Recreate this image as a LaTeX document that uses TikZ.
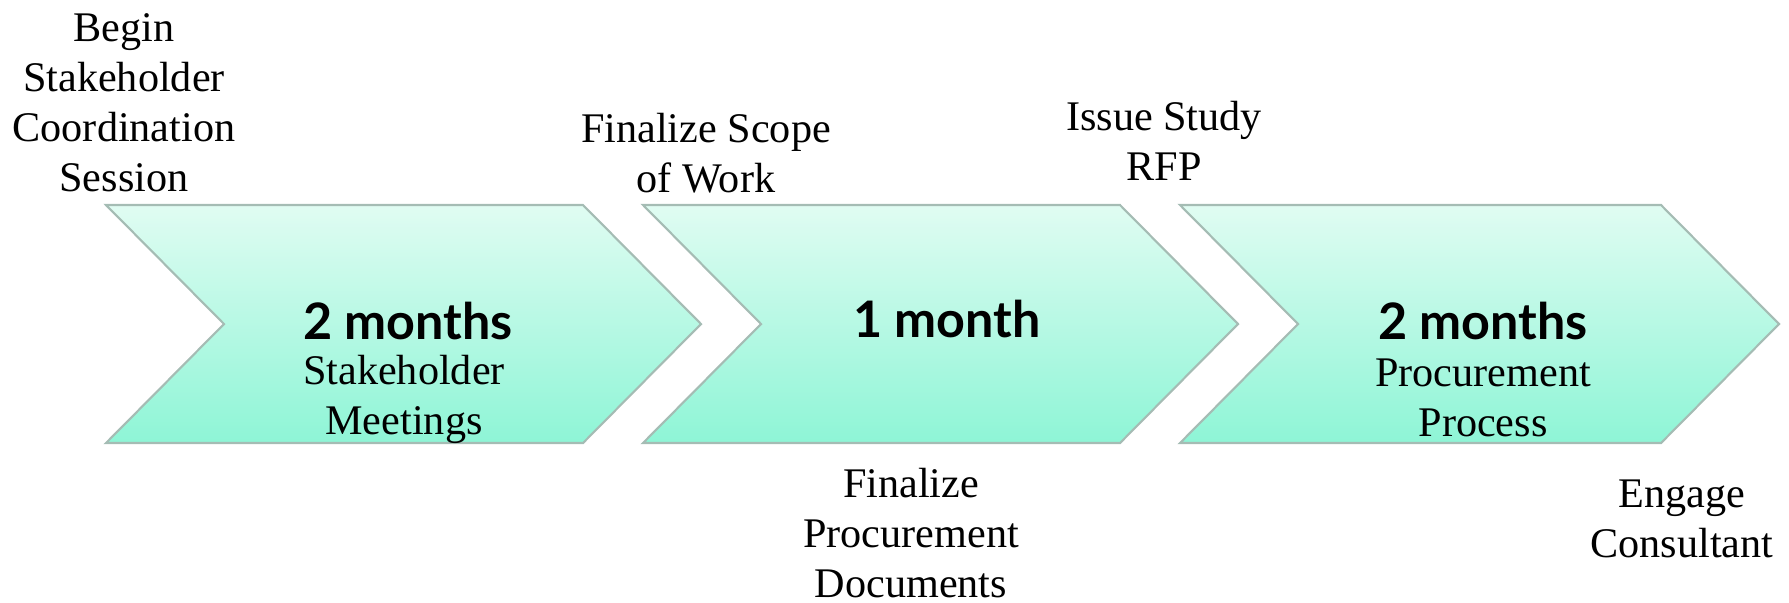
\documentclass[tikz,border=0pt]{standalone}
\usepackage{fontspec}
\setmainfont{Liberation Serif}
\newfontfamily\latofont{Lato}
\definecolor{mintTop}{RGB}{224,252,242}
\definecolor{mintBot}{RGB}{142,245,214}
\definecolor{chevLine}{RGB}{165,188,180}
\begin{document}
\begin{tikzpicture}[x=0.01cm, y=-0.01cm,
  chevron/.style={draw=chevLine, line width=0.6pt, top color=mintTop, bottom color=mintBot},
  note node/.style={align=center, inner sep=0pt, anchor=base, font=\fontsize{12}{14.2}\selectfont},
  time node/.style={inner sep=0pt, anchor=base, font=\latofont\bfseries\fontsize{14.3}{16}\selectfont}]

                    \useasboundingbox (0,0) rectangle (1789,602);

                    \foreach \l/\r in {106/583, 643/1120, 1180/1661}
                        \path[chevron] (\l,205) -- (\r,205) -- (\r+118,324) -- (\r,443) -- (\l,443) -- (\l+118,324) -- cycle;

                    \node[time node] at (408, 339) (dur1) {2 months};
                    \node[time node] at (947, 337) (dur2) {1 month};
                    \node[time node] at (1483, 339) (dur3) {2 months};
                    \node[note node] at (404, 434) (task1) {Stakeholder\\Meetings};
                    \node[note node] at (1483, 436) (task3) {Procurement\\Process};

                    \node[note node] at (124, 191) (begin) {Begin\\Stakeholder\\Coordination\\Session};
                    \node[note node] at (706, 192) (scope) {Finalize Scope\\of Work};
                    \node[note node] at (1164, 180) (rfp) {Issue Study\\RFP};
                    \node[note node] at (911, 597) (docs) {Finalize\\Procurement\\Documents};
                    \node[note node] at (1682, 557) (engage) {Engage\\Consultant};
                \end{tikzpicture}
\end{document}
